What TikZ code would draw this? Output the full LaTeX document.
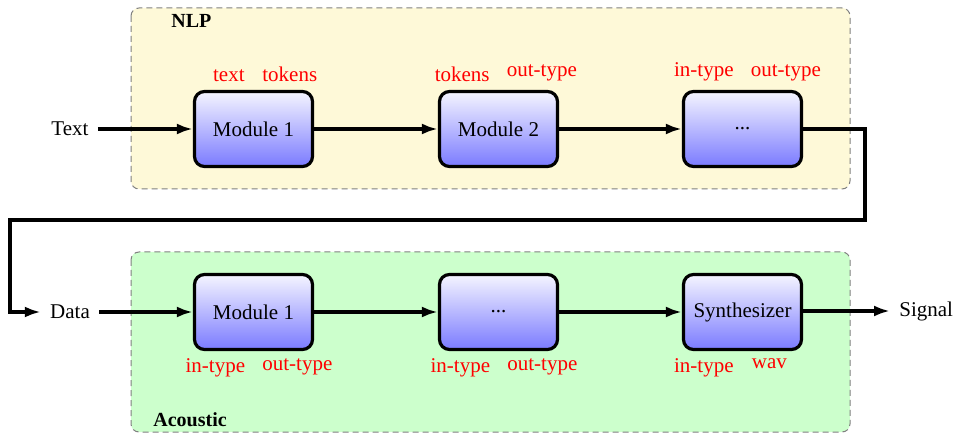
\documentclass[tikz,border=0pt]{standalone}
\usepackage{fontspec}
\setmainfont{Liberation Serif}
\usetikzlibrary{arrows.meta,calc}
\definecolor{nlpfill}{RGB}{254,249,216}
\definecolor{acfill}{RGB}{204,255,204}
\tikzset{
  container/.style={draw=gray, line width=0.5pt, dash pattern=on 3pt off 2pt, rounded corners=4pt},
  module/.style={draw=black, line width=1.6pt, rounded corners=5pt, minimum width=59pt, minimum height=37.5pt,
    top color=blue!4!white, bottom color=blue!52!white, inner sep=0pt},
  lbl/.style={text=red, inner sep=0pt},
  io/.style={inner sep=4.5pt},
  title/.style={font=\bfseries, inner sep=0pt},
  conn/.style={line width=1.6pt, -{Latex[length=8pt,width=5.5pt]}},
}
\begin{document}
\begin{tikzpicture}[x=0.5pt,y=-0.5pt,font=\fontsize{10.5}{12.6}\selectfont]
\useasboundingbox (0,0) rectangle (960,433);
% containers
\draw[container, fill=nlpfill] (131,8) rectangle (850,189);
\draw[container, fill=acfill] (131,252) rectangle (850,432);
\node[title, anchor=west] (nlp) at (171,21) {NLP};
\node[title, anchor=west] (ac) at (153,420) {Acoustic};
% top row
\node[module] (a1) at (253.5,129) {Module 1};
\node[module] (a2) at (498.5,129) {Module 2};
\node[module] (a3) at (742.5,129) {...};
% bottom row
\node[module] (b1) at (253.5,312) {Module 1};
\node[module] (b2) at (498.5,312) {...};
\node[module] (b3) at (742.5,312) {Synthesizer};
% io
\node[io] (text) at (70,129) {Text};
\node[io] (data) at (70,312) {Data};
\node[io, anchor=west] (signal) at (890,311) {Signal};
% labels
\node[lbl, anchor=south east] (l1a) at ($(a1.north)+(-8.5,-8)$) {text};
\node[lbl, anchor=south west] (l1b) at ($(a1.north)+(8.5,-8)$) {tokens};
\node[lbl, anchor=south east] (l2a) at ($(a2.north)+(-8.5,-8)$) {tokens};
\node[lbl, anchor=south west] (l2b) at ($(a2.north)+(8,-8)$) {out-type};
\node[lbl, anchor=south east] (l3a) at ($(a3.north)+(-8.5,-8)$) {in-type};
\node[lbl, anchor=south west] (l3b) at ($(a3.north)+(8,-8)$) {out-type};
\node[lbl, anchor=north east] (m1a) at ($(b1.south)+(-8,7)$) {in-type};
\node[lbl, anchor=north west] (m1b) at ($(b1.south)+(8.5,7)$) {out-type};
\node[lbl, anchor=north east] (m2a) at ($(b2.south)+(-8,7)$) {in-type};
\node[lbl, anchor=north west] (m2b) at ($(b2.south)+(8.5,7)$) {out-type};
\node[lbl, anchor=north east] (m3a) at ($(b3.south)+(-8.5,7)$) {in-type};
\node[lbl, anchor=north west] (m3b) at ($(b3.south)+(9,7)$) {wav};
% connectors
\draw[conn] (text) -- (a1);
\draw[conn] (a1) -- (a2);
\draw[conn] (a2) -- (a3);
\coordinate (c1) at (865,220);
\coordinate (c2) at (10,220);
\draw[conn] (a3.east) -| (c1) -- (c2) |- (data.west);
\draw[conn] (data) -- (b1);
\draw[conn] (b1) -- (b2);
\draw[conn] (b2) -- (b3);
\draw[conn] (b3.east |- signal.west) -- (signal.west);
\end{tikzpicture}
\end{document}
